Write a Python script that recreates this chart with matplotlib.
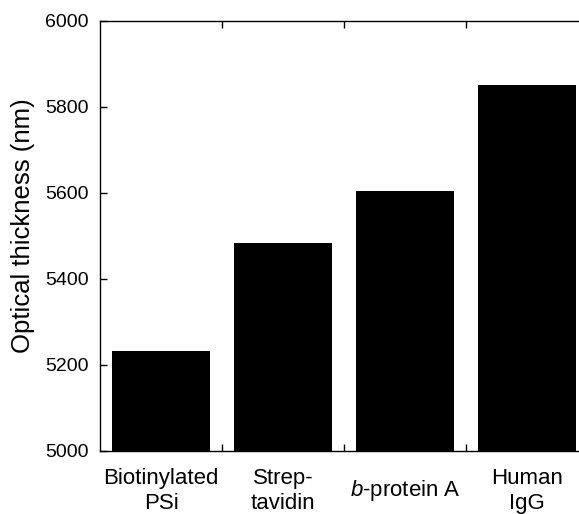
import matplotlib
matplotlib.use('Agg')
import matplotlib.pyplot as plt

categories = ['Biotinylated\nPSi', 'Strep-\ntavidin', r'$\it{b}$-protein A', 'Human\nIgG']
thickness = [5232, 5482, 5603, 5850]
yticks = [5000, 5200, 5400, 5600, 5800, 6000]

plt.rcParams['font.family'] = ['Liberation Sans', 'DejaVu Sans']
plt.rcParams['mathtext.fontset'] = 'custom'
plt.rcParams['mathtext.it'] = 'Liberation Sans:italic'

fig = plt.figure(figsize=(5.79, 5.14), dpi=100)
# right edge of the frame sits just past the picture, as in the original
ax = fig.add_axes([100 / 579, 1 - 450.5 / 514, 488 / 579, 430 / 514])

x = range(len(categories))
ax.bar(x, thickness, width=0.8, color='black', bottom=0)
ax.set_xlim(-0.5, 3.5)
ax.set_ylim(5000, 6000)
ax.set_yticks(yticks)
ax.set_xticks([0.5, 1.5, 2.5])
ax.set_xticklabels([])
ax.tick_params(axis='both', direction='in', length=5, width=1, labelsize=14,
               top=True, right=True)
ax.tick_params(axis='y', pad=8)
for s in ax.spines.values():
    s.set_linewidth(1)

for i, lab in enumerate(categories):
    ax.text(i, -0.094, lab, ha='center', va='center', fontsize=16,
            linespacing=1.2, transform=ax.get_xaxis_transform())

ax.set_ylabel('Optical thickness (nm)', fontsize=18.5)
ax.yaxis.set_label_coords(-0.133, 0.522)

fig.savefig('out.png', dpi=100)
